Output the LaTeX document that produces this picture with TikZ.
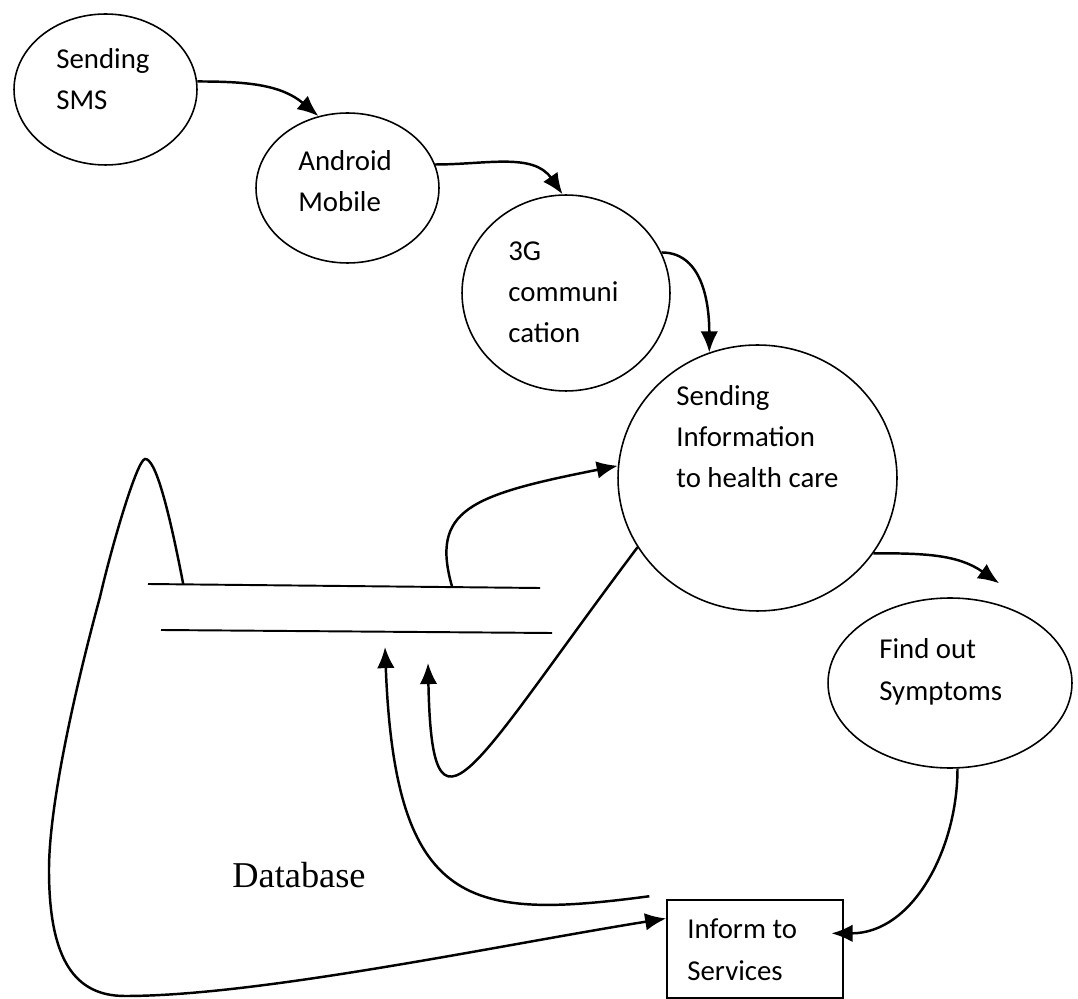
\documentclass[tikz,border=0pt]{standalone}
\usepackage{fontspec}
\setmainfont{Carlito}
\newfontfamily\dbfont{Liberation Serif}
\usetikzlibrary{arrows.meta,shapes.geometric,calc}
\tikzset{>={Latex[length=12pt,width=10pt]}}
\tikzset{
    proc/.style={draw, ellipse, line width=0.9pt, inner sep=0pt},
    proctext/.style={anchor=base west, align=left, inner sep=0pt, font=\fontsize{16.4}{23.5}\selectfont},
    flow/.style={->, line width=1.4pt},
    store/.style={line width=1.1pt}
}

\begin{document}
\begin{tikzpicture}[x=0.02cm, y=-0.02cm]
    \useasboundingbox (0,0) rectangle (1078,999);

    % processes
    \node[proc, minimum width=3.66cm, minimum height=3.02cm] (sms) at (105.5,89.5) {};
    \node[proc, minimum width=3.66cm, minimum height=3.00cm] (android) at (347.5,188) {};
    \node[proc, minimum width=4.16cm, minimum height=3.92cm] (comm) at (566,293) {};
    \node[proc, minimum width=5.58cm, minimum height=5.32cm] (info) at (757.5,478) {};
    \node[proc, minimum width=4.88cm, minimum height=3.40cm] (symp) at (950,683) {};
    \node[draw, line width=0.9pt, minimum width=3.52cm, minimum height=1.96cm] (inform) at (755,949) {};

    % texts (anchored at the baseline of the last line)
    \node[proctext] (smstxt) at (56,110) {Sending\\SMS};
    \node[proctext] (androidtxt) at (298,212) {Android\\Mobile};
    \node[proctext] (commtxt) at (508,343) {3G\\communi\\cation};
    \node[proctext] (infotxt) at (676,488) {Sending\\Information\\to health care};
    \node[proctext] (symptxt) at (879,700) {Find out\\Symptoms};
    \node[proctext] (informtxt) at (687,980) {Inform to\\Services};
    \node[anchor=base west, inner sep=0pt, font=\dbfont\fontsize{20.7}{25}\selectfont] (db) at (232,887) {Database};

    % data store
    \coordinate (st1) at (148,584);
    \coordinate (st2) at (540,588);
    \coordinate (sb1) at (161,630);
    \coordinate (sb2) at (552,633);
    \draw[store] (st1) -- (st2);
    \draw[store] (sb1) -- (sb2);
    \coordinate (dbloop) at ($(st1)!0.09!(st2)$);
    \coordinate (dbout) at ($(st1)!0.776!(st2)$);
    \coordinate (dbin1) at (385,647);
    \coordinate (dbin2) at (428,663);

    % flows
    \draw[flow] (sms.5) to[out=0, in=140] (android.112);
    \draw[flow] (android.15) to[out=0, in=125] (comm.92);
    \draw[flow] (comm.23) to[out=0, in=90] (info.111);
    \draw[flow] (info.-33) to[out=0, in=145] ([yshift=12pt]symp.58);
    \draw[flow] (symp.-85) to[out=-90, in=0] ([xshift=-7pt]inform.10);
    \draw[flow] ([xshift=-9.6pt, yshift=1.7pt]inform.north west) .. controls (470,920) and (395,910) .. (dbin1);
    \draw[flow] (info.210) .. controls (470,770) and (432,860) .. (dbin2);
    \draw[flow] (dbout) .. controls (430,510) and (470,495) .. (info.175);
    \draw[flow] (dbloop) .. controls (168,505) and (155,458) .. (145,459)
        .. controls (137,460) and (112,545) .. (100,597)
        .. controls (79,674) and (49,800) .. (49,870)
        .. controls (49,960) and (75,996) .. (125,996)
        .. controls (260,996) and (500,945) .. (inform.161);
\end{tikzpicture}
\end{document}
